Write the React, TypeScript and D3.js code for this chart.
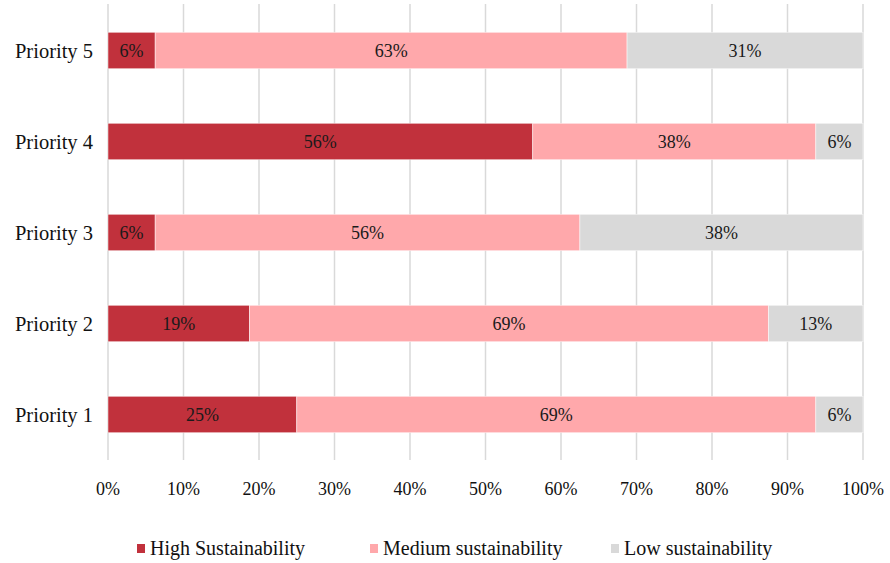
import React from "react";
import * as d3 from "d3";

// Share of responses per priority level (16 respondents each)
const priorities = ["Priority 5", "Priority 4", "Priority 3", "Priority 2", "Priority 1"];
const highSustainability = [0.0625, 0.5625, 0.0625, 0.1875, 0.25];
const mediumSustainability = [0.625, 0.375, 0.5625, 0.6875, 0.6875];
const lowSustainability = [0.3125, 0.0625, 0.375, 0.125, 0.0625];
const seriesNames = ["High Sustainability", "Medium sustainability", "Low sustainability"];
const seriesColors = ["#C1313C", "#FFA8AB", "#D9D9D9"];
const xTicks = [0, 0.1, 0.2, 0.3, 0.4, 0.5, 0.6, 0.7, 0.8, 0.9, 1];

const W = 890;
const H = 563;
const FONT = "'Liberation Serif', 'DejaVu Serif', serif";

export default function App() {
  const x = d3.scaleLinear().domain([0, 1]).range([108, 863]);
  const y = d3.scaleBand<string>().domain(priorities).range([5, 460]).paddingInner(0.6).paddingOuter(0.3);
  const fmt = d3.format(".0%");

  const rows = priorities.map((p, i) => ({
    priority: p,
    high: highSustainability[i],
    medium: mediumSustainability[i],
    low: lowSustainability[i],
  }));
  const stack = d3.stack<any>().keys(["high", "medium", "low"]);
  const layers = stack(rows);

  const legendX = [137, 370, 611];

  return (
    <svg
      width={W}
      height={H}
      style={{ position: "absolute", left: 0, top: 0, background: "#fff" }}
      fontFamily={FONT}
    >
      {/* vertical gridlines */}
      {xTicks.map((t) => (
        <line key={t} x1={x(t)} x2={x(t)} y1={4} y2={460} stroke="#D9D9D9" strokeWidth={1.5} />
      ))}

      {/* stacked bars */}
      {layers.map((layer, li) => (
        <g key={layer.key}>
          {layer.map((d, i) => {
            const x0 = x(d[0]);
            const x1 = x(d[1]);
            const yy = y(priorities[i])!;
            const v = d[1] - d[0];
            return (
              <g key={i}>
                <rect
                  x={x0}
                  y={yy}
                  width={x1 - x0}
                  height={y.bandwidth()}
                  fill={seriesColors[li]}
                  stroke="rgba(255,255,255,0.6)"
                  strokeWidth={0.8}
                />
                <text
                  x={(x0 + x1) / 2}
                  y={yy + y.bandwidth() / 2}
                  dy="0.35em"
                  textAnchor="middle"
                  fontSize={18}
                  fill="#1a1a1a"
                >
                  {fmt(v)}
                </text>
              </g>
            );
          })}
        </g>
      ))}

      {/* category labels */}
      {priorities.map((p) => (
        <text
          key={p}
          x={93}
          y={y(p)! + y.bandwidth() / 2}
          dy="0.35em"
          textAnchor="end"
          fontSize={20.5}
          fill="#111"
        >
          {p}
        </text>
      ))}

      {/* x tick labels */}
      {xTicks.map((t) => (
        <text key={t} x={x(t)} y={489} dy="0.35em" textAnchor="middle" fontSize={18} fill="#111">
          {fmt(t)}
        </text>
      ))}

      {/* legend */}
      {seriesNames.map((name, i) => (
        <g key={name} transform={`translate(${legendX[i]},548)`}>
          <rect x={0} y={-4} width={8} height={9} fill={seriesColors[i]} />
          <text x={13} y={0} dy="0.35em" fontSize={20} fill="#111">
            {name}
          </text>
        </g>
      ))}
    </svg>
  );
}
